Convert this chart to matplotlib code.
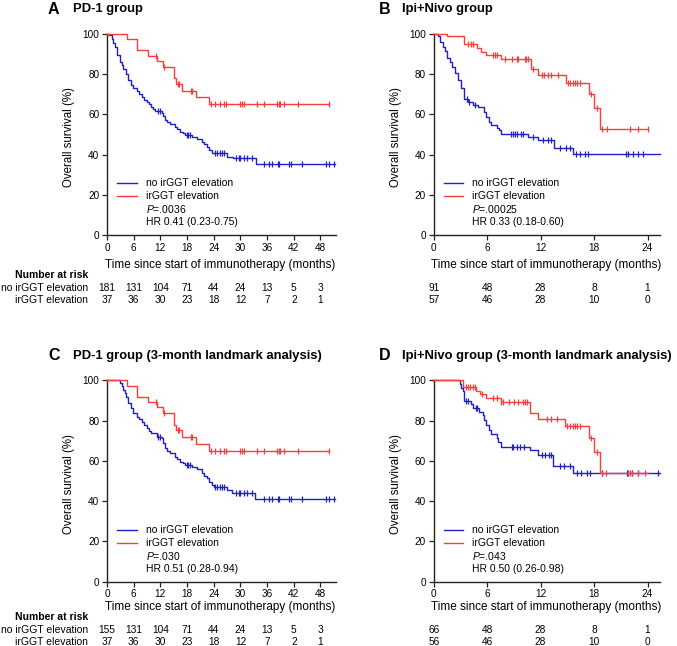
import numpy as np
import matplotlib
matplotlib.use("Agg")
import matplotlib.pyplot as plt
import matplotlib.transforms as mtransforms

plt.rcParams['font.family'] = ['Liberation Sans', 'DejaVu Sans']
plt.rcParams['mathtext.fontset'] = 'custom'
plt.rcParams['mathtext.it'] = 'Liberation Sans:italic'
plt.rcParams['mathtext.rm'] = 'Liberation Sans'

# ---------------- data ----------------
# Panel A: PD-1 group
A_no_t = [0, 0.5, 1.05, 1.4, 1.8, 2.3, 2.9, 3.3, 3.7, 4.3, 4.8, 5.3, 5.9, 6.8, 7.3, 7.8, 8.4, 8.9, 9.4, 9.8,
          10.3, 10.8, 12.3, 12.7, 13.1, 13.6, 14.2, 15.3, 15.8, 16.4, 17.0, 17.6, 19.1, 20.2, 21.3, 21.9,
          22.4, 23.0, 23.6, 26.9, 28.4, 33.5]
A_no_s = [100, 99.4, 97.7, 95.5, 93.5, 89.4, 86.0, 84.5, 82.8, 80.3, 77.0, 74.5, 73.3, 71.7, 70.2, 68.7, 67.4,
          66.2, 65.0, 63.7, 62.7, 61.8, 60.8, 59.0, 57.1, 56.0, 55.1, 53.8, 52.6, 51.3, 50.5, 49.7, 48.8, 48.0,
          46.4, 45.2, 43.9, 42.3, 40.6, 38.9, 38.1, 35.5]
A_no_cens = [11.5, 12.0, 17.9, 18.3, 18.7, 24.3, 24.8, 25.4, 25.9, 26.4, 29.0, 29.6, 30.0, 30.7, 31.5, 32.6,
             35.3, 36.4, 37.2, 38.4, 38.6, 40.9, 41.3, 43.9, 49.2, 49.9, 51.0]
A_no_end = 51.3
A_yes_t = [0, 4.6, 6.7, 9.3, 11.3, 12.5, 15.0, 15.6, 16.8, 20.0, 23.0]
A_yes_s = [100, 97.3, 91.9, 89.2, 86.5, 83.8, 78.0, 75.1, 71.8, 68.5, 65.0]
A_yes_cens = [11.0, 12.9, 16.0, 16.3, 18.9, 19.2, 23.5, 24.4, 25.5, 26.2, 26.8, 30.0, 30.4, 30.7, 33.8,
              35.3, 38.3, 38.6, 38.9, 39.8, 42.9, 49.9]
A_yes_end = 49.9

# Panel B: Ipi+Nivo group
B_no_t = [0, 0.5, 0.7, 1.0, 1.27, 1.53, 1.8, 2.1, 2.4, 2.76, 3.1, 3.4, 3.9, 4.4, 5.0, 5.6, 5.9, 6.2, 6.4,
          7.1, 7.3, 7.6, 10.6, 11.7, 13.5, 15.65]
B_no_s = [100, 98.9, 96.2, 93.4, 91.7, 87.9, 86.3, 83.7, 80.8, 77.1, 73.0, 67.5, 66.3, 64.7, 63.5, 61.3,
          58.5, 56.4, 54.7, 53.0, 52.2, 50.2, 48.9, 47.4, 43.1, 40.2]
B_no_cens = [3.7, 3.95, 4.6, 8.7, 8.9, 9.1, 9.4, 9.8, 10.0, 11.2, 12.3, 12.8, 13.2, 14.2, 14.8, 15.3,
             16.0, 16.4, 17.0, 17.3, 21.6, 21.8, 22.4, 22.9, 23.5]
B_no_end = 25.4
B_yes_t = [0, 1.46, 3.4, 4.9, 5.3, 5.9, 7.55, 10.9, 11.7, 14.8, 17.45, 18.0, 18.65]
B_yes_s = [100, 98.9, 95.0, 92.9, 91.2, 89.6, 87.4, 82.4, 79.4, 75.8, 70.0, 63.0, 52.5]
B_yes_cens = [3.9, 4.2, 4.4, 6.6, 6.9, 7.1, 8.0, 8.75, 9.3, 9.5, 10.2, 10.4, 10.6, 11.2, 12.1, 12.4, 12.8,
              13.2, 13.9, 15.1, 15.3, 15.6, 15.9, 16.1, 16.4, 17.7, 18.3, 18.9, 19.4, 22.0, 22.9, 24.07]
B_yes_end = 24.07

# Panel C: PD-1 group (3-month landmark analysis)
C_no_t = [0, 3.0, 3.4, 3.7, 4.0, 4.3, 4.8, 5.3, 5.9, 6.8, 7.3, 7.8, 8.4, 8.9, 9.5, 10.0, 11.2, 12.3, 12.7,
          13.1, 13.6, 14.2, 15.3, 15.8, 16.4, 17.0, 17.6, 19.1, 20.2, 21.3, 21.9, 22.4, 23.0, 23.6, 24.0,
          26.9, 28.0, 33.3]
C_no_s = [100, 98.7, 97.0, 95.2, 93.5, 91.9, 88.6, 86.1, 83.6, 82.0, 80.8, 79.5, 77.8, 76.2, 74.9, 73.7,
          72.0, 71.2, 68.7, 66.2, 64.9, 63.7, 62.1, 60.8, 59.6, 58.8, 57.9, 56.8, 55.8, 53.8, 52.6, 51.3,
          49.7, 48.0, 47.2, 45.5, 44.2, 41.2]
C_no_cens = [11.5, 12.0, 17.9, 18.3, 18.7, 24.3, 24.8, 25.4, 25.9, 26.4, 28.9, 29.6, 30.0, 30.7, 31.5,
             32.6, 35.3, 36.4, 37.2, 38.4, 38.6, 40.9, 41.3, 43.9, 49.2, 49.9, 51.0]
C_no_end = 51.3
C_yes_t = A_yes_t
C_yes_s = A_yes_s
C_yes_cens = A_yes_cens
C_yes_end = A_yes_end

# Panel D: Ipi+Nivo group (3-month landmark analysis)
D_no_t = [0, 3.0, 3.1, 3.25, 3.4, 4.15, 4.4, 5.1, 5.5, 5.7, 5.9, 6.2, 6.4, 7.1, 7.25, 7.55, 10.8, 11.7,
          13.4, 15.65]
D_no_s = [100, 98.2, 96.4, 94.6, 89.8, 88.0, 86.3, 84.5, 82.7, 80.5, 78.0, 75.5, 73.2, 71.3, 69.6, 67.1,
          65.3, 62.9, 57.4, 53.8]
D_no_cens = [3.6, 3.9, 4.7, 4.9, 8.75, 8.9, 9.3, 9.7, 10.1, 12.1, 12.5, 12.9, 13.2, 14.2, 14.6, 15.3,
             16.1, 16.5, 17.2, 17.5, 18.9, 21.7, 21.8, 22.3, 22.9, 25.2]
D_no_end = 25.4
D_yes_t = [0, 3.3, 4.8, 5.2, 5.9, 7.5, 10.8, 11.7, 14.7, 17.4, 18.0, 18.65]
D_yes_s = [100, 96.8, 94.7, 93.0, 91.0, 89.2, 83.9, 80.9, 77.3, 71.5, 64.4, 53.8]
D_yes_cens = [3.6, 3.9, 4.1, 4.4, 4.6, 5.4, 6.7, 7.1, 7.5, 7.8, 8.5, 9.0, 9.5, 10.0, 10.2, 10.5, 12.7,
              13.2, 13.8, 15.0, 15.3, 15.6, 15.9, 16.1, 16.4, 17.7, 18.3, 18.9, 19.3, 21.8, 22.0, 22.3,
              22.9, 23.7]
D_yes_end = 24.07

# Numbers at risk
A_ticks = [0, 6, 12, 18, 24, 30, 36, 42, 48]
B_ticks = [0, 6, 12, 18, 24]
A_risk_no = [181, 131, 104, 71, 44, 24, 13, 5, 3]
A_risk_yes = [37, 36, 30, 23, 18, 12, 7, 2, 1]
B_risk_no = [91, 48, 28, 8, 1]
B_risk_yes = [57, 46, 28, 10, 0]
C_risk_no = [155, 131, 104, 71, 44, 24, 13, 5, 3]
C_risk_yes = [37, 36, 30, 23, 18, 12, 7, 2, 1]
D_risk_no = [66, 48, 28, 8, 1]
D_risk_yes = [56, 46, 28, 10, 0]

titles = ["PD-1 group", "Ipi+Nivo group", "PD-1 group (3-month landmark analysis)",
          "Ipi+Nivo group (3-month landmark analysis)"]
letters = ["A", "B", "C", "D"]
pvals = ["=.0036", "=.00025", "=.030", "=.043"]
hrs = ["HR 0.41 (0.23-0.75)", "HR 0.33 (0.18-0.60)", "HR 0.51 (0.28-0.94)", "HR 0.50 (0.26-0.98)"]
group_labels = ["no irGGT elevation", "irGGT elevation"]
xlabel_text = "Time since start of immunotherapy (months)"
ylabel_text = "Overall survival (%)"

BLUE = "#1f1fcc"
RED = "#ff3b3b"

W, H = 677, 646
fig = plt.figure(figsize=(W / 100, H / 100), dpi=100)


def fx(px):
    return px / W


def fy(py):
    return 1 - py / H


# axes boxes in px: left, right, top, bottom
boxes = [(107, 336, 34, 235), (433.7, 660, 34, 235), (107, 336, 380.3, 581.7), (433.7, 660, 380.3, 581.7)]
xlims = [51.5, 25.4, 51.5, 25.4]
ticks = [A_ticks, B_ticks, A_ticks, B_ticks]
curves = [
    ((A_no_t, A_no_s, A_no_cens, A_no_end), (A_yes_t, A_yes_s, A_yes_cens, A_yes_end)),
    ((B_no_t, B_no_s, B_no_cens, B_no_end), (B_yes_t, B_yes_s, B_yes_cens, B_yes_end)),
    ((C_no_t, C_no_s, C_no_cens, C_no_end), (C_yes_t, C_yes_s, C_yes_cens, C_yes_end)),
    ((D_no_t, D_no_s, D_no_cens, D_no_end), (D_yes_t, D_yes_s, D_yes_cens, D_yes_end)),
]
risks = [(A_risk_no, A_risk_yes), (B_risk_no, B_risk_yes), (C_risk_no, C_risk_yes), (D_risk_no, D_risk_yes)]
title_px = [(48, 73, 9), (379, 402, 9), (48, 73, 356), (379, 402, 356)]
# baselines (px) of header, row 1, row 2
risk_rows = [(278.5, 290.7, 303.3), (278.5, 290.7, 303.3), (620, 633.3, 644.8), (620, 633.3, 644.8)]
xlabel_y = [265, 265, 606.7, 606.7]

for i in range(4):
    l, r, t, b = boxes[i]
    ax = fig.add_axes([fx(l), fy(b), fx(r) - fx(l), fy(t) - fy(b)])
    for (tt, ss, cens, end), col in zip(curves[i], [BLUE, RED]):
        tt = np.array(tt, dtype=float)
        ss = np.array(ss, dtype=float)
        xs = np.append(tt, end)
        ys = np.append(ss, ss[-1])
        ax.plot(xs, ys, drawstyle='steps-post', color=col, lw=1.0, clip_on=False, zorder=3)
        cens = np.array(cens, dtype=float)
        idx = np.searchsorted(tt, cens, side='right') - 1
        ax.plot(cens, ss[idx], ls='none', marker='|', ms=4.5, mew=0.9, color=col, clip_on=False, zorder=3)
    ax.set_xlim(0, xlims[i])
    ax.set_ylim(0, 100)
    ax.set_xticks(ticks[i])
    ax.set_yticks([0, 20, 40, 60, 80, 100])
    for s in ['top', 'right']:
        ax.spines[s].set_visible(False)
    for s in ['left', 'bottom']:
        ax.spines[s].set_color('#222222')
        ax.spines[s].set_linewidth(1.0)
    ax.tick_params(axis='both', direction='out', length=3.5, width=0.9, color='#222222',
                   labelsize=7.2, pad=2)

    # axis labels
    fig.text(fx((l + r) / 2 - 1), fy(xlabel_y[i]), xlabel_text, fontsize=8.5, ha='center', va='center')
    fig.text(fx(l - 38), fy((t + b) / 2 + 3), ylabel_text, fontsize=8.3, ha='center', va='center',
             rotation=90)

    # legend-like annotation
    ax.plot([0.044, 0.131], [0.257, 0.257], transform=ax.transAxes, color=BLUE, lw=1.0)
    ax.plot([0.044, 0.131], [0.192, 0.192], transform=ax.transAxes, color=RED, lw=1.0)
    ax.text(0.170, 0.257, group_labels[0], transform=ax.transAxes, fontsize=7.5, va='center')
    ax.text(0.170, 0.192, group_labels[1], transform=ax.transAxes, fontsize=7.5, va='center')
    ax.text(0.170, 0.127, r"$\it{P}$" + pvals[i], transform=ax.transAxes, fontsize=7.5, va='center')
    ax.text(0.170, 0.064, hrs[i], transform=ax.transAxes, fontsize=7.5, va='center')

    # titles
    lx, tx, ty = title_px[i]
    fig.text(fx(lx), fy(ty), letters[i], fontsize=11.5, fontweight='bold', va='center', ha='left')
    fig.text(fx(tx), fy(ty), titles[i], fontsize=9.4, fontweight='bold', va='center', ha='left')

    # numbers at risk
    trans = mtransforms.blended_transform_factory(ax.transData, fig.transFigure)
    hy, r1, r2 = risk_rows[i]
    if i in (0, 2):
        fig.text(fx(88), fy(hy), "Number at risk", fontsize=7.5, fontweight='bold', ha='right',
                 va='baseline')
        fig.text(fx(88), fy(r1), group_labels[0], fontsize=7.5, ha='right', va='baseline')
        fig.text(fx(88), fy(r2), group_labels[1], fontsize=7.5, ha='right', va='baseline')
    for xv, n1, n2 in zip(ticks[i], risks[i][0], risks[i][1]):
        ax.text(xv, fy(r1), str(n1), transform=trans, fontsize=7.3, ha='center', va='baseline')
        ax.text(xv, fy(r2), str(n2), transform=trans, fontsize=7.3, ha='center', va='baseline')

fig.savefig("out.png", dpi=100)
